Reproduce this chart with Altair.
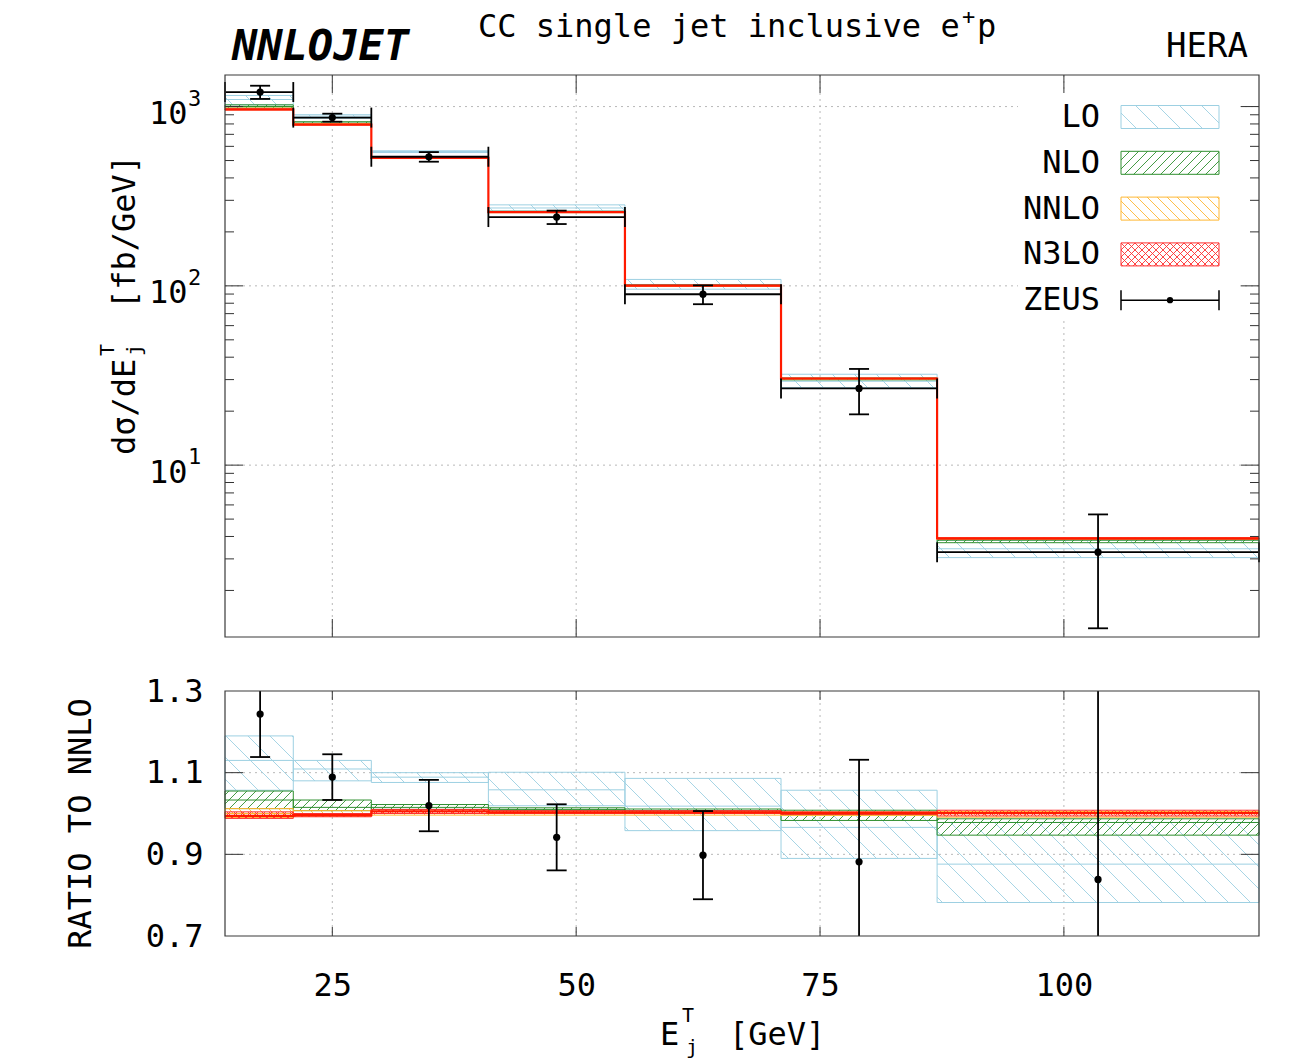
import math

import altair as alt
import pandas as pd

# ---------------------------------------------------------------------------
# E_T^jet binning [GeV]
bin_lo = [14, 21, 29, 41, 55, 71, 87]
bin_hi = [21, 29, 41, 55, 71, 87, 120]

# NNLO central value of dsigma/dE_T [fb/GeV]
nnlo_xsec = [969, 797, 515, 257, 100, 30.4, 3.90]

# scale-variation bands of each order, normalised to the NNLO central value
lo_down = [1.057, 1.080, 1.076, 1.019, 0.958, 0.890, 0.782]
lo_cent = [1.130, 1.109, 1.089, 1.058, 1.018, 0.966, 0.876]
lo_up = [1.190, 1.130, 1.100, 1.101, 1.086, 1.057, 0.978]

nlo_down = [1.012, 1.007, 1.010, 1.007, 1.004, 0.983, 0.947]
nlo_cent = [1.033, 1.015, 1.015, 1.010, 1.007, 0.997, 0.978]
nlo_up = [1.055, 1.033, 1.022, 1.014, 1.011, 1.008, 0.987]

nnlo_down = [0.990, 0.993, 0.996, 0.996, 0.996, 0.995, 0.991]
nnlo_cent = [1.000, 1.000, 1.000, 1.000, 1.000, 1.000, 1.000]
nnlo_up = [1.012, 1.007, 1.006, 1.004, 1.004, 1.004, 1.005]

n3lo_down = [0.988, 0.992, 1.000, 1.000, 1.000, 0.998, 0.994]
n3lo_cent = [0.994, 0.996, 1.005, 1.003, 1.003, 1.001, 1.001]
n3lo_up = [1.004, 1.000, 1.010, 1.007, 1.007, 1.004, 1.008]

# ZEUS measurement
zeus_et = [17.6, 25.0, 34.9, 48.0, 63.0, 79.0, 103.5]
zeus_xsec = [1205, 868, 525, 242, 89.8, 26.8, 3.27]
zeus_err = [102, 44.6, 32.4, 20.8, 10.8, 7.6, 2.04]

orders = ["LO", "NLO", "NNLO", "N3LO"]
order_colors = ["#9dd0e2", "#2f8f2f", "#ffb733", "#ff3030"]
# hatch of every band: (direction, spacing in px)
order_hatch = [[("\\", 22)], [("/", 9)], [("\\", 10)], [("\\", 7), ("/", 7)]]
band_sets = {
    "LO": (lo_down, lo_cent, lo_up),
    "NLO": (nlo_down, nlo_cent, nlo_up),
    "NNLO": (nnlo_down, nnlo_cent, nnlo_up),
    "N3LO": (n3lo_down, n3lo_cent, n3lo_up),
}

x_major = [25, 50, 75, 100]
yt_major = [10, 100, 1000]
yt_exponent = ["1", "2", "3"]
yt_minor = [m * d for d in (1, 10, 100) for m in range(2, 10)]
yr_major = [0.7, 0.9, 1.1, 1.3]
yr_grid = [0.9, 1.1]

# ---------------------------------------------------------------------------
# geometry of the two panels (one plot area, two y scales)
W, H_TOP, GAP, H_RAT = 1034, 562, 54, 245
R0 = H_TOP + GAP
R1 = R0 + H_RAT
X_DOM = [14, 120]
YT_DOM = [1.1, 1500]
YR_DOM = [0.7, 1.3]
LT = [math.log10(v) for v in YT_DOM]


def x_to_px(x):
    return (x - X_DOM[0]) / (X_DOM[1] - X_DOM[0]) * W


def px_to_x(p):
    return X_DOM[0] + p / W * (X_DOM[1] - X_DOM[0])


def yt_to_px(y):
    return (LT[1] - math.log10(y)) / (LT[1] - LT[0]) * H_TOP


def px_to_yt(p):
    return 10 ** (LT[1] - p / H_TOP * (LT[1] - LT[0]))


def yr_to_px(y):
    return R0 + (YR_DOM[1] - y) / (YR_DOM[1] - YR_DOM[0]) * H_RAT


def px_to_yr(p):
    return YR_DOM[1] - (p - R0) / H_RAT * (YR_DOM[1] - YR_DOM[0])


def hatch_segments(px0, px1, py0, py1, direction, step):
    """Diagonal hatch lines clipped to a pixel rectangle."""
    segs = []
    if direction == "\\":
        for k in range(math.ceil((py0 - px1) / step), math.floor((py1 - px0) / step) + 1):
            c = k * step
            xa, xb = max(px0, py0 - c), min(px1, py1 - c)
            if xb - xa > 0.5:
                segs.append((xa, xa + c, xb, xb + c))
    else:
        for k in range(math.ceil((py0 + px0) / step), math.floor((py1 + px1) / step) + 1):
            c = k * step
            xa, xb = max(px0, c - py1), min(px1, c - py0)
            if xb - xa > 0.5:
                segs.append((xa, c - xa, xb, c - xb))
    return segs


def hatch_table(bands, to_px, from_px):
    rows = []
    for b in bands.itertuples():
        k = orders.index(b.order)
        px0, px1 = x_to_px(b.x0), x_to_px(b.x1)
        py0, py1 = to_px(b.hi), to_px(b.lo)
        for d, s in order_hatch[k]:
            for xa, ya, xb, yb in hatch_segments(px0, px1, py0, py1, d, s):
                rows.append(dict(order=b.order, x=px_to_x(xa), y=from_px(ya),
                                 xe=px_to_x(xb), ye=from_px(yb)))
    return pd.DataFrame(rows)


top_rows, rat_rows = [], []
for o in orders:
    down, cent, up = band_sets[o]
    for i in range(len(bin_lo)):
        n = nnlo_xsec[i]
        top_rows.append(dict(order=o, x0=bin_lo[i], x1=bin_hi[i],
                             lo=down[i] * n, mid=cent[i] * n, hi=up[i] * n))
        rat_rows.append(dict(order=o, x0=bin_lo[i], x1=bin_hi[i],
                             lo=down[i], mid=cent[i], hi=up[i]))
top_bands = pd.DataFrame(top_rows)
rat_bands = pd.DataFrame(rat_rows)

# legend boxes live in the upper panel
LEG_ROW = [42 + 45.8 * i for i in range(5)]
LEG_X0, LEG_X1, LEG_HALF, LEG_TXT = 896, 994, 11.5, 875
leg_boxes = pd.DataFrame([
    dict(order=o, x0=px_to_x(LEG_X0), x1=px_to_x(LEG_X1),
         lo=px_to_yt(LEG_ROW[i] + LEG_HALF), mid=px_to_yt(LEG_ROW[i]),
         hi=px_to_yt(LEG_ROW[i] - LEG_HALF))
    for i, o in enumerate(orders)
])
top_boxes = pd.concat([top_bands, leg_boxes], ignore_index=True)
top_hatch = hatch_table(top_boxes, yt_to_px, px_to_yt)
rat_hatch = hatch_table(rat_bands, yr_to_px, px_to_yr)

# ---------------------------------------------------------------------------
FONT = "DejaVu Sans Mono"
GRID = dict(color="#b8b8b8", strokeDash=[2, 4], strokeWidth=1)
TICK = dict(color="#333333", strokeWidth=1)
XS = alt.Scale(domain=X_DOM, nice=False, zero=False)
YT = alt.Scale(type="log", domain=YT_DOM, range=[H_TOP, 0], nice=False, clamp=True)
YR = alt.Scale(domain=YR_DOM, range=[R1, R0], nice=False, zero=False, clamp=True)

AXIS_COMMON = dict(ticks=False, tickSize=0, domain=False, grid=False,
                   labelFont=FONT, labelFontSize=32, labelColor="black",
                   titleFont=FONT, titleFontSize=32, titleFontWeight="normal",
                   titleColor="black")
top_y_axis = alt.Axis(
    orient="left", values=yt_major, labelExpr="'10'",
    labelPadding=38, labelOffset=7, labelBaseline="middle",
    title=None, **AXIS_COMMON)
rat_y_axis = alt.Axis(
    orient="left", values=yr_major, format=".1f",
    labelPadding=22, labelBaseline="middle",
    title="RATIO TO NNLO", titleAngle=270, titleAlign="center",
    titleBaseline="middle", titleX=-145, titleY=748, **AXIS_COMMON)
x_axis = alt.Axis(
    orient="bottom", values=x_major, labelPadding=34, labelFlush=False,
    title=None, **AXIS_COMMON)

# every layer carries the same axis definition, so the merged axis is unambiguous
AXIS_FOR = {"top": top_y_axis, "rat": rat_y_axis}


def X(f):
    return alt.X(f"{f}:Q", scale=XS, axis=x_axis)


def Y(f, panel):
    ys = YT if panel == "top" else YR
    return alt.Y(f"{f}:Q", scale=ys, axis=AXIS_FOR[panel])


def band_layers(boxes, centres, hatch, panel):
    layers = []
    for o, col in zip(orders, order_colors):
        layers.append(
            alt.Chart(hatch[hatch.order == o]).mark_rule(color=col, strokeWidth=0.9).encode(
                x=X("x"), x2=alt.X2("xe"), y=Y("y", panel), y2=alt.Y2("ye")))
        layers.append(
            alt.Chart(boxes[boxes.order == o]).mark_rect(filled=False, color=col, strokeWidth=1).encode(
                x=X("x0"), x2=alt.X2("x1"), y=Y("lo", panel), y2=alt.Y2("hi")))
        c = centres[centres.order == o]
        if o == "N3LO":
            step = pd.DataFrame({"x": list(c.x0) + [c.x1.iloc[-1]],
                                 "v": list(c.mid) + [c.mid.iloc[-1]]})
            layers.append(
                alt.Chart(step).mark_line(color="#ff1a00", strokeWidth=2.2,
                                          interpolate="step-after").encode(
                    x=X("x"), y=Y("v", panel)))
        else:
            layers.append(
                alt.Chart(c).mark_rule(color=col, strokeWidth=1).encode(
                    x=X("x0"), x2=alt.X2("x1"), y=Y("mid", panel)))
    return layers


def edge_ticks(values, panel, field_is_x, at, length, sign):
    df = pd.DataFrame({"v": values})
    if field_is_x:
        enc = dict(x=X("v"), y=alt.value(at), y2=alt.value(at + sign * length))
    else:
        enc = dict(y=Y("v", panel), x=alt.value(at), x2=alt.value(at + sign * length))
    return alt.Chart(df).mark_rule(**TICK).encode(**enc)


def text_layer(txt, x, y, **mk):
    return alt.Chart(pd.DataFrame({"t": [txt]})).mark_text(font=FONT, color="black", **mk).encode(
        text="t:N", x=alt.value(x), y=alt.value(y))


# texts with raised / lowered parts, as (text, x, y, size)
x_title_parts = [("E", 435, 970, 32), ("T", 457, 947, 20), ("j", 461, 979, 20), ("[GeV]", 504, 970, 32)]
y_title_parts = [("dσ/dE", -90, 380, 32), ("T", -111, 281, 20), ("j", -84, 281, 20), ("[fb/GeV]", -90, 234, 32)]
heading_parts = [("CC single jet inclusive e", 253, -38, 32), ("+", 737, -51, 22), ("p", 752, -38, 32)]

# ---------------------------------------------------------------------------
# upper panel: absolute cross section
zeus = pd.DataFrame(dict(et=zeus_et, x0=bin_lo, x1=bin_hi, v=zeus_xsec,
                         lo=[v - e for v, e in zip(zeus_xsec, zeus_err)],
                         hi=[v + e for v, e in zip(zeus_xsec, zeus_err)]))
zeus_edges = pd.DataFrame({"x": bin_lo + bin_hi, "v": zeus_xsec + zeus_xsec})
zeus_caps = pd.DataFrame({"x": zeus_et + zeus_et, "v": list(zeus.lo) + list(zeus.hi)})

leg_zeus_y = px_to_yt(LEG_ROW[4])
leg_zeus = pd.DataFrame({"x0": [px_to_x(LEG_X0)], "x1": [px_to_x(LEG_X1)],
                         "xm": [px_to_x((LEG_X0 + LEG_X1) / 2)], "v": [leg_zeus_y]})
leg_zeus_caps = pd.DataFrame({"x": [px_to_x(LEG_X0), px_to_x(LEG_X1)], "v": [leg_zeus_y] * 2})
leg_text = pd.DataFrame({"t": orders + ["ZEUS"],
                         "x": [px_to_x(LEG_TXT)] * 5,
                         "v": [px_to_yt(r) for r in LEG_ROW]})

top_layers = [
    alt.Chart(pd.DataFrame({"x": x_major})).mark_rule(**GRID).encode(
        x=X("x"), y=alt.value(0), y2=alt.value(H_TOP)),
    alt.Chart(pd.DataFrame({"v": yt_major})).mark_rule(**GRID).encode(
        y=Y("v", "top"), x=alt.value(0), x2=alt.value(W)),
    alt.Chart(pd.DataFrame({"k": [0]})).mark_rect(color="white").encode(
        x=alt.value(793), x2=alt.value(1015), y=alt.value(18), y2=alt.value(245)),
]
top_layers += band_layers(top_boxes, top_bands, top_hatch, "top")
top_layers += [
    alt.Chart(zeus).mark_rule(color="black", strokeWidth=1.8).encode(
        x=X("x0"), x2=alt.X2("x1"), y=Y("v", "top")),
    alt.Chart(zeus).mark_rule(color="black", strokeWidth=1.8).encode(
        x=X("et"), y=Y("lo", "top"), y2=alt.Y2("hi")),
    alt.Chart(zeus_edges).mark_tick(orient="vertical", size=20, thickness=1.8,
                                    color="black", opacity=1).encode(x=X("x"), y=Y("v", "top")),
    alt.Chart(zeus_caps).mark_tick(orient="horizontal", size=20, thickness=1.8,
                                   color="black", opacity=1).encode(x=X("x"), y=Y("v", "top")),
    alt.Chart(zeus).mark_circle(size=52, color="black", opacity=1).encode(
        x=X("et"), y=Y("v", "top")),
    # legend entries
    alt.Chart(leg_zeus).mark_rule(color="black", strokeWidth=1.5).encode(
        x=X("x0"), x2=alt.X2("x1"), y=Y("v", "top")),
    alt.Chart(leg_zeus_caps).mark_tick(orient="vertical", size=20, thickness=1.5,
                                       color="black", opacity=1).encode(x=X("x"), y=Y("v", "top")),
    alt.Chart(leg_zeus).mark_circle(size=40, color="black", opacity=1).encode(
        x=X("xm"), y=Y("v", "top")),
    alt.Chart(leg_text).mark_text(font=FONT, fontSize=32, align="right",
                                  baseline="middle", color="black").encode(
        text="t:N", x=X("x"), y=Y("v", "top")),
    # exponents of the decade labels
    alt.Chart(pd.DataFrame({"v": yt_major, "s": yt_exponent})).mark_text(
        font=FONT, fontSize=22, align="left", baseline="middle", dy=-8, color="black").encode(
        text="s:N", y=Y("v", "top"), x=alt.value(-37)),
    # inward ticks
    edge_ticks(x_major, "top", True, H_TOP, 18, -1),
    edge_ticks(x_major, "top", True, 0, 18, 1),
    edge_ticks(yt_major, "top", False, 0, 18, 1),
    edge_ticks(yt_major, "top", False, W, 18, -1),
    edge_ticks(yt_minor, "top", False, 0, 9, 1),
    edge_ticks(yt_minor, "top", False, W, 9, -1),
    alt.Chart(pd.DataFrame({"k": [0]})).mark_rect(filled=False, color="#3a3a3a", strokeWidth=1.2).encode(
        x=alt.value(0), x2=alt.value(W), y=alt.value(0), y2=alt.value(H_TOP)),
    # headings
    text_layer("NNLOJET", 7, -15, fontSize=42, fontWeight="bold", fontStyle="italic",
               align="left", baseline="alphabetic"),
    text_layer("HERA", 1023, -18, fontSize=34, align="right", baseline="alphabetic"),
]
for t, x, y, s in heading_parts:
    top_layers.append(text_layer(t, x, y, fontSize=s, align="left", baseline="alphabetic"))
for t, x, y, s in y_title_parts:
    top_layers.append(text_layer(t, x, y, fontSize=s, angle=270, align="left", baseline="alphabetic"))
for t, x, y, s in x_title_parts:
    top_layers.append(text_layer(t, x, y, fontSize=s, align="left", baseline="alphabetic"))
top = alt.layer(*top_layers)

# ---------------------------------------------------------------------------
# lower panel: ratio to NNLO
rz = pd.DataFrame(dict(et=zeus_et,
                       v=[v / n for v, n in zip(zeus_xsec, nnlo_xsec)],
                       lo=[(v - e) / n for v, e, n in zip(zeus_xsec, zeus_err, nnlo_xsec)],
                       hi=[(v + e) / n for v, e, n in zip(zeus_xsec, zeus_err, nnlo_xsec)]))
rz_caps = pd.DataFrame({"x": zeus_et + zeus_et, "v": list(rz.lo) + list(rz.hi)})
rz_caps = rz_caps[(rz_caps.v >= YR_DOM[0]) & (rz_caps.v <= YR_DOM[1])]

rat_layers = [
    alt.Chart(pd.DataFrame({"x": x_major})).mark_rule(**GRID).encode(
        x=X("x"), y=alt.value(R0), y2=alt.value(R1)),
    alt.Chart(pd.DataFrame({"v": yr_grid})).mark_rule(**GRID).encode(
        y=Y("v", "rat"), x=alt.value(0), x2=alt.value(W)),
]
rat_layers += band_layers(rat_bands, rat_bands, rat_hatch, "rat")
rat_layers += [
    alt.Chart(rz).mark_rule(color="black", strokeWidth=1.8).encode(
        x=X("et"), y=Y("lo", "rat"), y2=alt.Y2("hi")),
    alt.Chart(rz_caps).mark_tick(orient="horizontal", size=20, thickness=1.8,
                                 color="black", opacity=1).encode(x=X("x"), y=Y("v", "rat")),
    alt.Chart(rz).mark_circle(size=52, color="black", opacity=1).encode(
        x=X("et"), y=Y("v", "rat")),
    edge_ticks(x_major, "rat", True, R1, 9, -1),
    edge_ticks(x_major, "rat", True, R0, 9, 1),
    edge_ticks(yr_grid, "rat", False, 0, 18, 1),
    edge_ticks(yr_grid, "rat", False, W, 18, -1),
    alt.Chart(pd.DataFrame({"k": [0]})).mark_rect(filled=False, color="#3a3a3a", strokeWidth=1.2).encode(
        x=alt.value(0), x2=alt.value(W), y=alt.value(R0), y2=alt.value(R1)),
]
ratio = alt.layer(*rat_layers)

chart = (
    alt.layer(top, ratio)
    .resolve_scale(y="independent")
    .properties(
        width=W,
        height=R1,
        autosize=alt.AutoSizeParams(type="none"),
        padding={"left": 225, "top": 75, "right": 39, "bottom": 127},
        background="white",
    )
    .configure_view(stroke=None)
)

chart.save("out.html", embed_options={"renderer": "svg", "actions": False})
